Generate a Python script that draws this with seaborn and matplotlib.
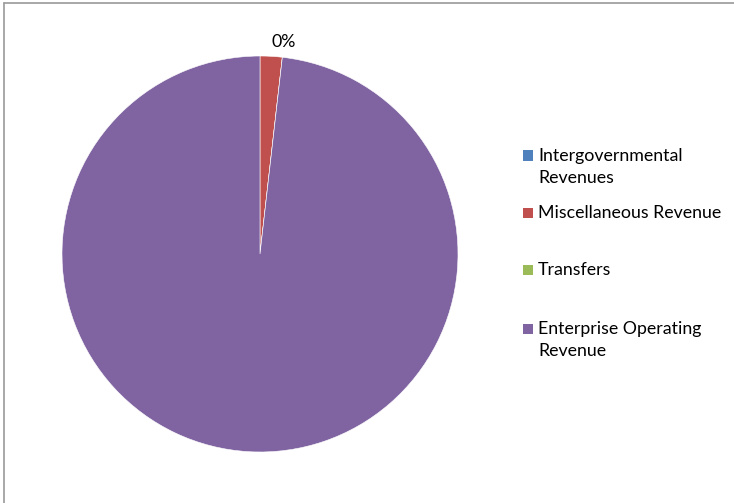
import numpy as np
import matplotlib
matplotlib.use("Agg")
import matplotlib.pyplot as plt
import seaborn as sns
from matplotlib.patches import Rectangle
from matplotlib.lines import Line2D

sns.set_theme(style="white")
plt.rcParams['font.family'] = ['Lato', 'DejaVu Sans']

categories = ["Intergovernmental\nRevenues", "Miscellaneous Revenue", "Transfers",
              "Enterprise Operating\nRevenue"]
values = [0.0, 1.8, 0.0, 98.2]
colors = ["#4F81BD", "#C0504D", "#9BBB59", "#8064A2"]

W, H = 734, 503
fig = plt.figure(figsize=(W / 100, H / 100), dpi=100)
fig.patch.set_facecolor("white")

cx, cy, r = 260, 254, 198
ax = fig.add_axes([(cx - r) / W, (H - cy - r) / H, 2 * r / W, 2 * r / H])
wedges, _ = ax.pie(values, colors=colors, startangle=90, counterclock=False,
                   wedgeprops=dict(edgecolor="white", linewidth=0.4))
ax.set_xlim(-1, 1)
ax.set_ylim(-1, 1)
ax.set_aspect("equal")
ax.axis("off")

# data label for Transfers slice
total = sum(values)
cum = sum(values[:2]) + values[2] / 2
ang = np.deg2rad(90 - 360 * cum / total)
pct = values[2] / total * 100
ax.text(1.07 * np.cos(ang), 1.08 * np.sin(ang), f"{pct:.0f}%", ha="center", va="center",
        fontsize=12.8, color="#000000", clip_on=False)

# legend drawn manually to mimic spacing
ys = [167, 213, 270, 340]
for lab, col, y in zip(categories, colors, ys):
    nlines = lab.count("\n") + 1
    top = y - (nlines - 1) * 11.5
    fig.patches.append(Rectangle((523 / W, 1 - (top + 5) / H), 10 / W, 10 / H,
                                 transform=fig.transFigure, facecolor=col, edgecolor="none"))
    fig.text(538 / W, 1 - y / H, lab, ha="left", va="center", fontsize=12.8,
             color="#000000", linespacing=1.42)

# frame lines
fig.lines.append(Line2D([4 / W, 1], [1 - 3 / H, 1 - 3 / H], transform=fig.transFigure,
                        color="#9a9a9a", linewidth=1.2))
fig.lines.append(Line2D([4 / W, 4 / W], [0, 1 - 3 / H], transform=fig.transFigure,
                        color="#9a9a9a", linewidth=1.2))

fig.savefig("out.png", dpi=100, facecolor="white")
